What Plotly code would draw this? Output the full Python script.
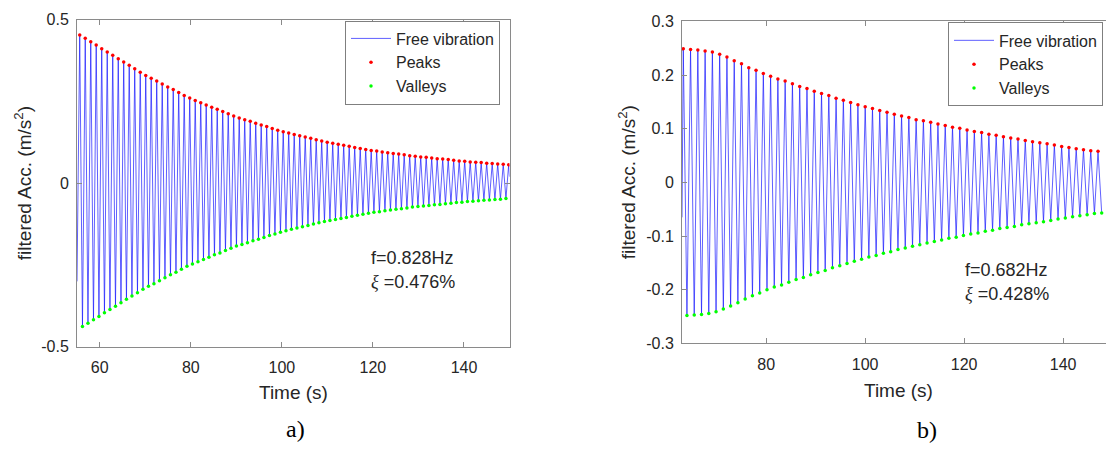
import plotly.graph_objects as go

# ---------------- data: panel a) ----------------
a_peak_t = [55.60, 56.81, 58.02, 59.22, 60.43, 61.64, 62.85, 64.06, 65.26, 66.47,
            67.68, 68.89, 70.10, 71.30, 72.51, 73.72, 74.93, 76.14, 77.34, 78.55,
            79.76, 80.97, 82.18, 83.38, 84.59, 85.80, 87.01, 88.22, 89.42, 90.63,
            91.84, 93.05, 94.26, 95.46, 96.67, 97.88, 99.09, 100.30, 101.50, 102.71,
            103.92, 105.13, 106.34, 107.54, 108.75, 109.96, 111.17, 112.38, 113.58, 114.79,
            116.00, 117.21, 118.42, 119.62, 120.83, 122.04, 123.25, 124.46, 125.66, 126.87,
            128.08, 129.29, 130.50, 131.70, 132.91, 134.12, 135.33, 136.54, 137.74, 138.95,
            140.16, 141.37, 142.58, 143.78, 144.99, 146.20, 147.41, 148.62, 149.82]
a_peak_v = [0.453, 0.443, 0.432, 0.422, 0.411, 0.401, 0.391, 0.380, 0.370, 0.360,
            0.350, 0.339, 0.329, 0.321, 0.312, 0.303, 0.294, 0.286, 0.277, 0.268,
            0.260, 0.253, 0.246, 0.239, 0.232, 0.226, 0.219, 0.212, 0.205, 0.199,
            0.194, 0.189, 0.183, 0.178, 0.173, 0.167, 0.162, 0.157, 0.153, 0.149,
            0.145, 0.141, 0.137, 0.133, 0.129, 0.125, 0.122, 0.119, 0.116, 0.113,
            0.109, 0.106, 0.103, 0.100, 0.098, 0.095, 0.093, 0.091, 0.089, 0.087,
            0.084, 0.082, 0.080, 0.079, 0.077, 0.075, 0.074, 0.072, 0.070, 0.068,
            0.067, 0.065, 0.064, 0.063, 0.061, 0.060, 0.059, 0.058, 0.056]
a_valley_t = [56.20, 57.41, 58.62, 59.82, 61.03, 62.24, 63.45, 64.66, 65.86, 67.07,
              68.28, 69.49, 70.70, 71.90, 73.11, 74.32, 75.53, 76.74, 77.94, 79.15,
              80.36, 81.57, 82.78, 83.98, 85.19, 86.40, 87.61, 88.82, 90.02, 91.23,
              92.44, 93.65, 94.86, 96.06, 97.27, 98.48, 99.69, 100.90, 102.10, 103.31,
              104.52, 105.73, 106.94, 108.14, 109.35, 110.56, 111.77, 112.98, 114.18, 115.39,
              116.60, 117.81, 119.02, 120.22, 121.43, 122.64, 123.85, 125.06, 126.26, 127.47,
              128.68, 129.89, 131.10, 132.30, 133.51, 134.72, 135.93, 137.14, 138.34, 139.55,
              140.76, 141.97, 143.18, 144.38, 145.59, 146.80, 148.01, 149.22]
a_valley_v = [-0.438, -0.428, -0.417, -0.407, -0.396, -0.386, -0.376, -0.365, -0.355, -0.345,
              -0.335, -0.324, -0.315, -0.307, -0.298, -0.289, -0.280, -0.272, -0.263, -0.254,
              -0.247, -0.240, -0.233, -0.226, -0.219, -0.213, -0.206, -0.199, -0.192, -0.187,
              -0.182, -0.176, -0.171, -0.166, -0.160, -0.155, -0.150, -0.145, -0.141, -0.137,
              -0.133, -0.129, -0.125, -0.121, -0.117, -0.114, -0.111, -0.108, -0.105, -0.101,
              -0.098, -0.095, -0.092, -0.089, -0.087, -0.084, -0.082, -0.080, -0.078, -0.076,
              -0.073, -0.071, -0.070, -0.068, -0.066, -0.065, -0.063, -0.061, -0.059, -0.058,
              -0.056, -0.055, -0.054, -0.052, -0.051, -0.050, -0.049, -0.047]
a_start = (55.0, -0.30)
a_end = (150.0, 0.02)

# ---------------- data: panel b) ----------------
b_peak_t = [63.26, 64.73, 66.20, 67.67, 69.14, 70.61, 72.08, 73.55, 75.02, 76.49,
            77.96, 79.43, 80.90, 82.37, 83.84, 85.31, 86.78, 88.25, 89.72, 91.19,
            92.66, 94.13, 95.60, 97.07, 98.54, 100.01, 101.48, 102.95, 104.42, 105.89,
            107.36, 108.83, 110.30, 111.77, 113.24, 114.71, 116.18, 117.65, 119.12, 120.59,
            122.06, 123.53, 125.00, 126.47, 127.94, 129.41, 130.88, 132.35, 133.82, 135.29,
            136.76, 138.23, 139.70, 141.17, 142.64, 144.11, 145.58, 147.05]
b_peak_v = [0.249, 0.248, 0.247, 0.245, 0.243, 0.239, 0.234, 0.227, 0.221, 0.214,
            0.209, 0.203, 0.198, 0.193, 0.189, 0.184, 0.179, 0.175, 0.170, 0.166,
            0.162, 0.157, 0.153, 0.149, 0.145, 0.141, 0.138, 0.134, 0.131, 0.127,
            0.124, 0.121, 0.117, 0.115, 0.112, 0.109, 0.106, 0.103, 0.101, 0.098,
            0.095, 0.093, 0.090, 0.088, 0.085, 0.083, 0.081, 0.078, 0.076, 0.074,
            0.072, 0.070, 0.067, 0.065, 0.063, 0.061, 0.059, 0.058]
b_valley_t = [64.00, 65.47, 66.94, 68.41, 69.88, 71.35, 72.82, 74.29, 75.76, 77.23,
              78.70, 80.17, 81.64, 83.11, 84.58, 86.05, 87.52, 88.99, 90.46, 91.93,
              93.40, 94.87, 96.34, 97.81, 99.28, 100.75, 102.22, 103.69, 105.16, 106.63,
              108.10, 109.57, 111.04, 112.51, 113.98, 115.45, 116.92, 118.39, 119.86, 121.33,
              122.80, 124.27, 125.74, 127.21, 128.68, 130.15, 131.62, 133.09, 134.56, 136.03,
              137.50, 138.97, 140.44, 141.91, 143.38, 144.85, 146.32, 147.79]
b_valley_v = [-0.248, -0.247, -0.246, -0.244, -0.241, -0.236, -0.230, -0.224, -0.217, -0.211,
              -0.206, -0.200, -0.195, -0.191, -0.186, -0.181, -0.177, -0.172, -0.168, -0.164,
              -0.159, -0.155, -0.151, -0.147, -0.143, -0.139, -0.136, -0.132, -0.129, -0.125,
              -0.122, -0.119, -0.116, -0.113, -0.110, -0.107, -0.104, -0.102, -0.099, -0.096,
              -0.094, -0.091, -0.089, -0.086, -0.084, -0.082, -0.079, -0.077, -0.075, -0.073,
              -0.071, -0.068, -0.066, -0.064, -0.062, -0.060, -0.058, -0.057]
b_start = (63.0, -0.065)

a_xticks = [60, 80, 100, 120, 140]
a_yticks = [-0.5, 0, 0.5]
a_yticklabels = ["-0.5", "0", "0.5"]
b_xticks = [80, 100, 120, 140]
b_yticks = [-0.3, -0.2, -0.1, 0, 0.1, 0.2, 0.3]
b_yticklabels = ["-0.3", "-0.2", "-0.1", "0", "0.1", "0.2", "0.3"]

XI = "<span style='font-family:Liberation Serif, Times New Roman, serif'><i>ξ</i></span>"
a_info = ["f=0.828Hz", XI + " =0.476%"]
b_info = ["f=0.682Hz", XI + " =0.428%"]


def vibration_line(start, pt, pv, vt, vv, end=None):
    pts = [start] + list(zip(pt, pv)) + list(zip(vt, vv))
    if end is not None:
        pts.append(end)
    pts.sort()
    return [p[0] for p in pts], [p[1] for p in pts]


W, H = 1106, 454
BLUE = "rgba(20,20,255,0.85)"
RED = "#ff0000"
GREEN = "#00ff00"
AX = "#8a8a8a"
TXT = "#262626"
SANS = "Liberation Sans, Arial, sans-serif"
SERIF = "Liberation Serif, Times New Roman, serif"

fig = go.Figure()

ax_t, ax_v = vibration_line(a_start, a_peak_t, a_peak_v, a_valley_t, a_valley_v, a_end)
bx_t, bx_v = vibration_line(b_start, b_peak_t, b_peak_v, b_valley_t, b_valley_v)

for (lt, lv, pt, pv, vt, vv, xa, ya, lg) in [
    (ax_t, ax_v, a_peak_t, a_peak_v, a_valley_t, a_valley_v, "x", "y", "legend"),
    (bx_t, bx_v, b_peak_t, b_peak_v, b_valley_t, b_valley_v, "x2", "y2", "legend2"),
]:
    fig.add_trace(go.Scatter(x=lt, y=lv, mode="lines", name="Free vibration",
                             line=dict(color=BLUE, width=0.8), xaxis=xa, yaxis=ya, legend=lg))
    fig.add_trace(go.Scatter(x=pt, y=pv, mode="markers", name="Peaks",
                             marker=dict(color=RED, size=3.5, line=dict(width=0)),
                             xaxis=xa, yaxis=ya, legend=lg))
    fig.add_trace(go.Scatter(x=vt, y=vv, mode="markers", name="Valleys",
                             marker=dict(color=GREEN, size=3.5, line=dict(width=0)),
                             xaxis=xa, yaxis=ya, legend=lg))

axis_common = dict(showline=True, linecolor=AX, linewidth=1, ticks="inside", ticklen=5,
                   tickcolor=AX, tickwidth=1, showgrid=False, zeroline=False,
                   tickfont=dict(family=SANS, size=16, color=TXT))

legend_common = dict(xanchor="right", yanchor="top", bgcolor="white",
                     bordercolor="#7f7f7f", borderwidth=1, itemwidth=40,
                     font=dict(family=SANS, size=16, color=TXT), tracegroupgap=0)

fig.update_layout(
    width=W, height=H, margin=dict(l=0, r=0, t=0, b=0),
    paper_bgcolor="white", plot_bgcolor="white",
    xaxis=dict(domain=[77 / W, 509.5 / W], range=[55, 150], tickvals=a_xticks,
               mirror="ticks", anchor="y", ticklabelstandoff=6, **axis_common),
    yaxis=dict(domain=[1 - 352 / H, 1 - 12 / H], range=[-0.5, 0.5], tickvals=a_yticks,
               ticktext=a_yticklabels, mirror="ticks", anchor="x", ticklabelstandoff=4,
               **axis_common),
    xaxis2=dict(domain=[682 / W, 1.0], range=[63.0, 148.66], tickvals=b_xticks,
                mirror="ticks", anchor="y2", ticklabelstandoff=6, **axis_common),
    yaxis2=dict(domain=[1 - 348.5 / H, 1 - 14 / H], range=[-0.3, 0.3], tickvals=b_yticks,
                ticktext=b_yticklabels, mirror=False, anchor="x2", ticklabelstandoff=4,
                **axis_common),
    legend=dict(x=500 / W, y=1 - 13 / H, **legend_common),
    legend2=dict(x=1103 / W, y=1 - 15 / H, **legend_common),
    showlegend=True,
)


def ann(text, x, y, size, family=SANS, color=TXT, xanchor="center", angle=0):
    fig.add_annotation(text=text, x=x / W, y=1 - y / H, xref="paper", yref="paper",
                       xanchor=xanchor, yanchor="middle", showarrow=False, textangle=angle,
                       font=dict(family=family, size=size, color=color))


ann("Time (s)", 293, 399, 19)
ann("Time (s)", 898, 397.5, 19)
ann("filtered Acc. (m/s<sup>2</sup>)", 23, 182, 19, angle=-90)
ann("filtered Acc. (m/s<sup>2</sup>)", 627, 181, 19, angle=-90)
ann(a_info[0], 369, 260, 18, xanchor="left")
ann(a_info[1], 369, 285, 18, xanchor="left")
ann(b_info[0], 963, 272, 18, xanchor="left")
ann(b_info[1], 963, 297, 18, xanchor="left")
ann("a)", 295, 437, 24, family=SERIF, color="black")
ann("b)", 927, 438, 24, family=SERIF, color="black")

fig.write_html("out.html")
